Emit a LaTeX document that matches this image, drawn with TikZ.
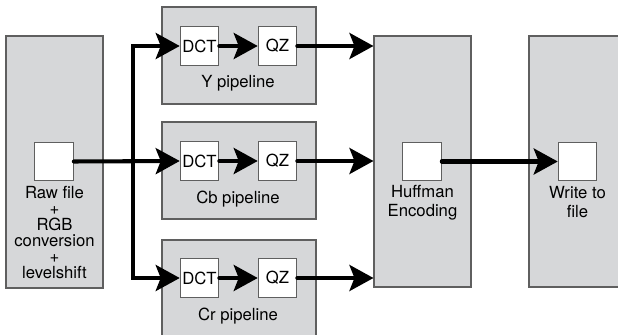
\documentclass[tikz,border=0pt]{standalone}
\usepackage{fontspec}
\setmainfont{TeX Gyre Heros}
\usetikzlibrary{arrows.meta,positioning}
\definecolor{boxgray}{RGB}{214,215,217}
\definecolor{edgegray}{RGB}{95,95,95}
\tikzset{
  stage/.style={draw=edgegray,fill=boxgray,line width=0.6pt,inner sep=0pt},
  unit/.style={draw=edgegray,fill=white,line width=0.6pt,minimum size=0.77cm,inner sep=0pt,font=\fontsize{9.5}{9.5}\selectfont},
  lbl/.style={align=center,inner sep=0pt,font=\fontsize{9.5}{9.1}\selectfont},
  flow/.style={line width=2.3pt,line cap=round,-{Stealth[length=0.48cm,width=0.52cm,inset=0.1cm]}},
}

\begin{document}
\begin{tikzpicture}
%\draw[help lines] (0,-7) grid (13,0);
\useasboundingbox (0,0) rectangle (12.36,-6.7);

% stages
\node[stage,minimum width=1.94cm,minimum height=5.04cm] (rawstage) at (1.09,-3.24) {};
\node[stage,minimum width=3.08cm,minimum height=1.94cm] (ystage) at (4.78,-1.11) {};
\node[stage,minimum width=3.08cm,minimum height=1.94cm] (cbstage) at (4.78,-3.41) {};
\node[stage,minimum width=3.08cm,minimum height=1.94cm] (crstage) at (4.78,-5.77) {};
\node[stage,minimum width=1.94cm,minimum height=5.02cm] (huffstage) at (8.45,-3.23) {};
\node[stage,minimum width=1.94cm,minimum height=5.02cm] (writestage) at (11.55,-3.23) {};

% units
\node[unit] (raw) at (1.08,-3.23) {};
\node[unit] (ydct) at (3.99,-0.92) {DCT};
\node[unit] (yqz) at (5.55,-0.92) {QZ};
\node[unit] (cbdct) at (3.99,-3.22) {DCT};
\node[unit] (cbqz) at (5.55,-3.22) {QZ};
\node[unit] (crdct) at (3.99,-5.56) {DCT};
\node[unit] (crqz) at (5.55,-5.56) {QZ};
\node[unit] (huff) at (8.44,-3.23) {};
\node[unit] (write) at (11.55,-3.23) {};

% labels
\node[lbl] (rawlbl) at (1.09,-4.65) {Raw file\\+\\RGB\\conversion\\+\\levelshift};
\node[lbl] (ylbl) at (4.76,-1.66) {Y pipeline};
\node[lbl] (cblbl) at (4.76,-3.98) {Cb pipeline};
\node[lbl] (crlbl) at (4.76,-6.32) {Cr pipeline};
\node[lbl,font=\fontsize{9.5}{10.8}\selectfont] (hufflbl) at (8.45,-4.05) {Huffman\\Encoding};
\node[lbl,font=\fontsize{9.5}{10.8}\selectfont] (writelbl) at (11.55,-4.05) {Write to\\file};

% flow
\coordinate (bus) at (2.66,-3.22);
\draw[flow] (raw.east) -- (cbdct.west);
\draw[flow] (bus) |- (ydct.west);
\draw[flow] (bus) |- (crdct.west);
\draw[flow] (ydct.east) -- (yqz.west);
\draw[flow] (cbdct.east) -- (cbqz.west);
\draw[flow] (crdct.east) -- (crqz.west);
\draw[flow] (yqz.east) -- (huffstage.west |- yqz);
\draw[flow] (cbqz.east) -- (huffstage.west |- cbqz);
\draw[flow] (crqz.east) -- (huffstage.west |- crqz);
\draw[flow] (huff.east) -- (write.west);
\end{tikzpicture}
\end{document}
